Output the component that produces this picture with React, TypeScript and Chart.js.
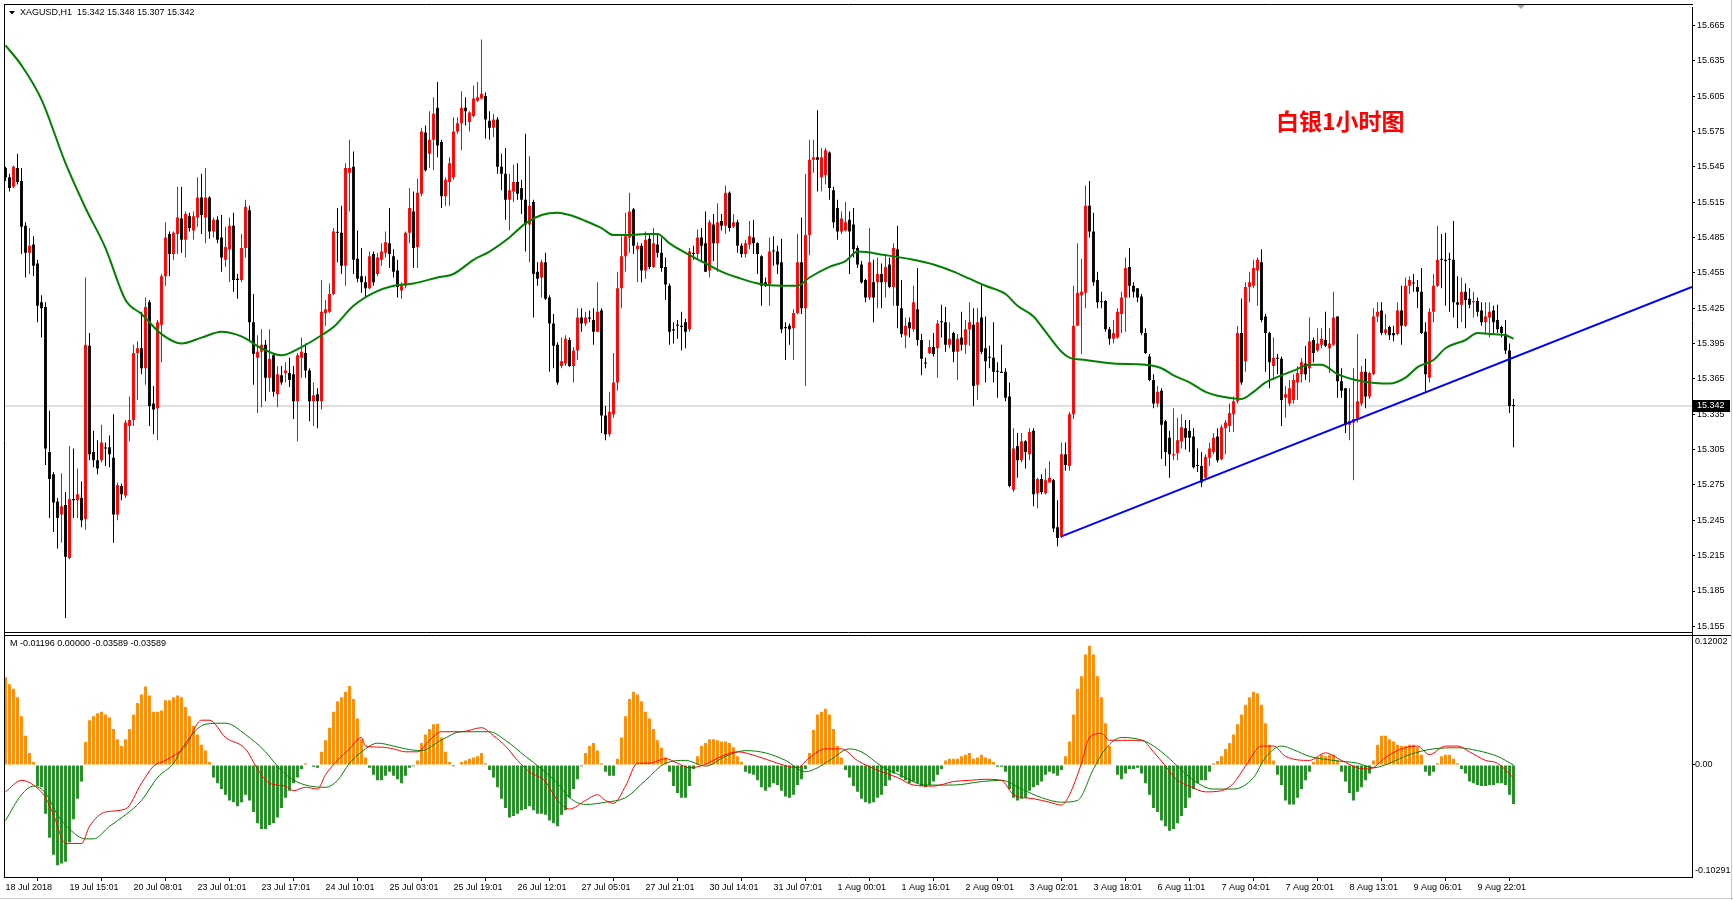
import React, { useEffect, useRef } from 'react';
import { Chart, registerables } from 'chart.js';

Chart.register(...registerables);

// ---------- DATA ----------
const xTickIdx = [0, 16, 32, 48, 64, 80, 96, 112, 128, 144, 160, 176, 192, 208, 224, 240, 256, 272, 288, 304, 320, 336, 352, 368];
const xTickLabels = ['18 Jul 2018', '19 Jul 15:01', '20 Jul 08:01', '23 Jul 01:01', '23 Jul 17:01', '24 Jul 10:01', '25 Jul 03:01', '25 Jul 19:01', '26 Jul 12:01', '27 Jul 05:01', '27 Jul 21:01', '30 Jul 14:01', '31 Jul 07:01', '1 Aug 00:01', '1 Aug 16:01', '2 Aug 09:01', '3 Aug 02:01', '3 Aug 18:01', '6 Aug 11:01', '7 Aug 04:01', '7 Aug 20:01', '8 Aug 13:01', '9 Aug 06:01', '9 Aug 22:01'];
const yTickValues = [15.155, 15.185, 15.215, 15.245, 15.275, 15.305, 15.335, 15.365, 15.395, 15.425, 15.455, 15.485, 15.515, 15.545, 15.575, 15.605, 15.635, 15.665];
const macdTickValues = [0.1135, 0, -0.0975];
const macdTickLabels = ['0.12002', '0.00', '-0.10291'];

const opens = [
15.544,15.536,15.528,15.544,15.533,15.495,15.472,15.479,15.463,15.430,
15.426,15.303,15.284,15.261,15.250,15.258,15.213,15.263,15.262,15.264,
15.246,15.393,15.303,15.296,15.296,15.306,15.307,15.298,15.250,15.274,
15.266,15.325,15.330,15.387,15.391,15.374,15.430,15.344,15.340,15.411,
15.452,15.488,15.471,15.488,15.501,15.483,15.503,15.491,15.502,15.519,
15.502,15.519,15.490,15.500,15.485,15.466,15.475,15.495,15.450,15.449,
15.476,15.508,15.413,15.383,15.388,15.394,15.366,15.385,15.352,15.368,
15.370,15.370,15.369,15.346,15.383,15.387,15.372,15.346,15.352,15.346,
15.421,15.422,15.437,15.489,15.489,15.461,15.540,15.545,15.467,15.452,
15.447,15.442,15.471,15.454,15.466,15.472,15.480,15.469,15.457,15.440,
15.444,15.489,15.507,15.477,15.522,15.574,15.556,15.568,15.595,15.566,
15.520,15.532,15.536,15.575,15.582,15.595,15.583,15.588,15.601,15.603,
15.605,15.584,15.578,15.585,15.545,15.539,15.517,15.524,15.532,15.527,
15.517,15.496,15.515,15.456,15.451,15.464,15.434,15.412,15.394,15.376,
15.378,15.398,15.376,15.389,15.417,15.412,15.417,15.415,15.405,15.423,
15.334,15.318,15.335,15.362,15.442,15.469,15.485,15.509,15.475,15.478,
15.457,15.484,15.460,15.479,15.472,15.460,15.444,15.407,15.410,15.410,
15.413,15.407,15.472,15.471,15.485,15.480,15.457,15.496,15.480,15.499,
15.495,15.523,15.494,15.498,15.478,15.471,15.479,15.485,15.480,15.469,
15.447,15.445,15.473,15.473,15.464,15.409,15.410,15.408,15.421,15.464,
15.425,15.487,15.551,15.553,15.536,15.538,15.557,15.525,15.510,15.490,
15.491,15.500,15.496,15.476,15.462,15.449,15.434,15.447,15.447,15.454,
15.447,15.462,15.443,15.475,15.425,15.402,15.413,15.407,15.424,15.398,
15.378,15.387,15.392,15.391,15.413,15.413,15.394,15.404,15.388,15.400,
15.394,15.407,15.411,15.360,15.417,15.391,15.383,15.383,15.371,15.371,
15.371,15.350,15.271,15.308,15.296,15.312,15.301,15.321,15.268,15.280,
15.268,15.277,15.279,15.239,15.231,15.301,15.291,15.335,15.410,15.436,
15.438,15.512,15.490,15.449,15.430,15.431,15.407,15.399,15.400,15.420,
15.434,15.460,15.444,15.442,15.435,15.404,15.384,15.364,15.344,15.355,
15.329,15.315,15.300,15.302,15.312,15.323,15.321,15.316,15.291,15.291,
15.281,15.298,15.303,15.316,15.297,15.323,15.325,15.335,15.346,15.404,
15.380,15.443,15.444,15.457,15.464,15.418,15.404,15.376,15.382,15.382,
15.349,15.344,15.347,15.362,15.369,15.378,15.374,15.398,15.389,15.394,
15.398,15.391,15.394,15.418,15.363,15.357,15.326,15.328,15.331,15.344,
15.371,15.350,15.369,15.418,15.423,15.404,15.409,15.404,15.403,15.423,
15.410,15.444,15.446,15.443,15.439,15.405,15.366,15.422,15.444,15.466,
15.466,15.466,15.466,15.430,15.428,15.439,15.433,15.430,15.431,15.423,
15.413,15.417,15.423,15.415,15.409,15.403,15.389,15.342];

const highs = [
15.545,15.539,15.546,15.556,15.544,15.498,15.493,15.486,15.466,15.436,
15.430,15.338,15.286,15.264,15.285,15.269,15.308,15.306,15.289,15.278,
15.451,15.404,15.321,15.313,15.326,15.311,15.317,15.335,15.277,15.276,
15.330,15.350,15.394,15.397,15.422,15.434,15.432,15.359,15.415,15.454,
15.498,15.490,15.490,15.528,15.528,15.507,15.506,15.507,15.536,15.539,
15.544,15.520,15.502,15.503,15.504,15.494,15.502,15.506,15.454,15.488,
15.517,15.512,15.437,15.402,15.407,15.398,15.407,15.386,15.376,15.376,
15.379,15.383,15.376,15.387,15.400,15.395,15.374,15.362,15.357,15.449,
15.432,15.446,15.493,15.510,15.512,15.548,15.568,15.558,15.491,15.476,
15.452,15.473,15.473,15.472,15.480,15.490,15.510,15.475,15.466,15.447,
15.490,15.527,15.524,15.535,15.578,15.580,15.592,15.604,15.617,15.568,
15.536,15.553,15.587,15.587,15.609,15.604,15.592,15.614,15.617,15.653,
15.608,15.592,15.590,15.587,15.556,15.561,15.539,15.547,15.548,15.534,
15.573,15.554,15.517,15.464,15.466,15.472,15.436,15.420,15.396,15.400,
15.402,15.400,15.392,15.425,15.425,15.422,15.423,15.425,15.447,15.425,
15.342,15.354,15.387,15.456,15.486,15.506,15.523,15.510,15.481,15.480,
15.490,15.488,15.493,15.488,15.485,15.468,15.446,15.413,15.415,15.422,
15.416,15.476,15.478,15.492,15.493,15.507,15.500,15.505,15.514,15.505,
15.529,15.524,15.505,15.500,15.480,15.483,15.499,15.500,15.481,15.470,
15.451,15.485,15.486,15.478,15.484,15.413,15.412,15.424,15.488,15.502,
15.539,15.568,15.568,15.593,15.561,15.561,15.558,15.528,15.517,15.507,
15.515,15.507,15.510,15.478,15.465,15.450,15.493,15.466,15.468,15.463,
15.471,15.468,15.480,15.495,15.449,15.417,15.417,15.444,15.459,15.403,
15.383,15.398,15.404,15.415,15.428,15.426,15.413,15.405,15.403,15.422,
15.415,15.430,15.425,15.425,15.446,15.418,15.393,15.413,15.379,15.394,
15.374,15.362,15.323,15.319,15.319,15.313,15.323,15.323,15.281,15.284,
15.289,15.295,15.280,15.262,15.311,15.311,15.337,15.444,15.480,15.467,
15.529,15.533,15.506,15.456,15.439,15.432,15.409,15.415,15.425,15.439,
15.468,15.476,15.447,15.442,15.437,15.408,15.386,15.369,15.359,15.357,
15.330,15.321,15.340,15.332,15.335,15.330,15.330,15.323,15.306,15.303,
15.301,15.311,15.319,15.323,15.326,15.330,15.344,15.350,15.410,15.433,
15.447,15.456,15.466,15.468,15.475,15.420,15.405,15.400,15.386,15.384,
15.359,15.364,15.369,15.376,15.383,15.393,15.417,15.400,15.408,15.408,
15.422,15.408,15.439,15.418,15.374,15.357,15.357,15.374,15.403,15.376,
15.382,15.371,15.425,15.430,15.430,15.420,15.410,15.410,15.430,15.444,
15.451,15.452,15.454,15.449,15.459,15.413,15.425,15.454,15.495,15.488,
15.489,15.472,15.499,15.452,15.451,15.446,15.442,15.439,15.434,15.430,
15.430,15.430,15.427,15.428,15.410,15.415,15.395,15.348];

const lows = [
15.533,15.524,15.527,15.530,15.471,15.451,15.454,15.452,15.413,15.400,
15.292,15.247,15.235,15.221,15.226,15.162,15.212,15.247,15.247,15.239,
15.237,15.296,15.290,15.284,15.294,15.291,15.290,15.226,15.245,15.262,
15.264,15.312,15.325,15.347,15.369,15.360,15.325,15.318,15.313,15.379,
15.444,15.452,15.466,15.471,15.472,15.468,15.490,15.483,15.494,15.488,
15.480,15.484,15.485,15.480,15.456,15.460,15.447,15.439,15.433,15.447,
15.468,15.398,15.360,15.336,15.341,15.346,15.354,15.350,15.341,15.360,
15.362,15.358,15.331,15.312,15.366,15.366,15.329,15.325,15.323,15.339,
15.410,15.421,15.436,15.464,15.454,15.444,15.507,15.454,15.447,15.438,
15.434,15.441,15.444,15.452,15.461,15.468,15.459,15.451,15.434,15.433,
15.442,15.480,15.459,15.459,15.520,15.541,15.544,15.542,15.553,15.510,
15.512,15.512,15.534,15.573,15.559,15.580,15.575,15.587,15.600,15.602,
15.569,15.568,15.570,15.539,15.525,15.500,15.491,15.515,15.517,15.505,
15.473,15.464,15.417,15.444,15.434,15.432,15.371,15.374,15.360,15.374,
15.376,15.375,15.362,15.381,15.405,15.410,15.413,15.394,15.405,15.319,
15.313,15.316,15.332,15.355,15.425,15.456,15.472,15.471,15.447,15.447,
15.450,15.458,15.459,15.468,15.456,15.432,15.394,15.395,15.399,15.389,
15.391,15.405,15.466,15.466,15.464,15.456,15.451,15.465,15.456,15.491,
15.488,15.490,15.493,15.472,15.468,15.468,15.475,15.471,15.454,15.427,
15.443,15.427,15.461,15.454,15.404,15.381,15.394,15.381,15.420,15.420,
15.359,15.470,15.540,15.524,15.524,15.530,15.517,15.493,15.483,15.488,
15.490,15.454,15.468,15.459,15.446,15.430,15.432,15.413,15.425,15.425,
15.434,15.442,15.427,15.408,15.400,15.391,15.400,15.405,15.393,15.368,
15.374,15.386,15.384,15.366,15.400,15.388,15.391,15.379,15.364,15.389,
15.386,15.393,15.342,15.347,15.386,15.362,15.374,15.362,15.349,15.370,
15.346,15.273,15.269,15.281,15.294,15.289,15.296,15.257,15.255,15.267,
15.267,15.277,15.235,15.223,15.230,15.287,15.287,15.331,15.410,15.386,
15.425,15.485,15.444,15.425,15.425,15.405,15.394,15.395,15.399,15.404,
15.405,15.434,15.434,15.430,15.402,15.386,15.363,15.340,15.341,15.297,
15.291,15.281,15.296,15.296,15.306,15.305,15.303,15.289,15.286,15.273,
15.279,15.291,15.301,15.294,15.296,15.301,15.320,15.320,15.344,15.360,
15.371,15.430,15.442,15.427,15.413,15.371,15.357,15.364,15.369,15.325,
15.332,15.342,15.344,15.347,15.362,15.364,15.362,15.379,15.388,15.391,
15.392,15.370,15.393,15.349,15.349,15.319,15.313,15.279,15.328,15.342,
15.340,15.348,15.368,15.413,15.402,15.402,15.398,15.397,15.402,15.394,
15.409,15.437,15.439,15.425,15.403,15.354,15.362,15.413,15.443,15.442,
15.427,15.422,15.417,15.408,15.413,15.408,15.425,15.417,15.418,15.410,
15.403,15.400,15.403,15.404,15.400,15.386,15.336,15.307];

const closes = [
15.536,15.527,15.545,15.532,15.494,15.472,15.478,15.461,15.427,15.425,
15.306,15.280,15.260,15.247,15.257,15.214,15.263,15.262,15.267,15.245,
15.394,15.301,15.296,15.289,15.311,15.306,15.301,15.250,15.275,15.267,
15.328,15.330,15.387,15.391,15.374,15.426,15.342,15.339,15.413,15.452,
15.485,15.471,15.489,15.502,15.483,15.505,15.493,15.503,15.519,15.504,
15.519,15.490,15.500,15.483,15.468,15.477,15.495,15.449,15.449,15.476,
15.511,15.413,15.386,15.388,15.394,15.366,15.382,15.354,15.369,15.362,
15.372,15.364,15.346,15.385,15.388,15.372,15.346,15.351,15.346,15.422,
15.424,15.437,15.490,15.489,15.461,15.544,15.544,15.466,15.450,15.447,
15.442,15.469,15.447,15.468,15.473,15.481,15.471,15.456,15.443,15.444,
15.489,15.510,15.476,15.523,15.575,15.542,15.568,15.590,15.563,15.520,
15.534,15.548,15.575,15.582,15.595,15.592,15.591,15.603,15.604,15.607,
15.585,15.578,15.585,15.545,15.539,15.517,15.525,15.532,15.522,15.517,
15.496,15.512,15.454,15.450,15.464,15.433,15.412,15.393,15.362,15.380,
15.399,15.376,15.389,15.417,15.412,15.417,15.416,15.405,15.422,15.334,
15.318,15.337,15.362,15.442,15.469,15.486,15.507,15.478,15.478,15.457,
15.483,15.460,15.480,15.472,15.459,15.445,15.405,15.406,15.410,15.409,
15.405,15.473,15.471,15.485,15.478,15.456,15.498,15.480,15.498,15.495,
15.523,15.493,15.498,15.478,15.471,15.480,15.486,15.480,15.471,15.444,
15.444,15.473,15.473,15.462,15.407,15.408,15.407,15.421,15.464,15.425,
15.487,15.551,15.553,15.551,15.553,15.559,15.527,15.498,15.490,15.501,
15.498,15.490,15.475,15.462,15.447,15.434,15.464,15.434,15.454,15.447,
15.460,15.443,15.476,15.427,15.403,15.410,15.408,15.430,15.398,15.382,
15.378,15.392,15.386,15.412,15.413,15.394,15.399,15.388,15.399,15.394,
15.407,15.413,15.359,15.413,15.388,15.380,15.383,15.371,15.371,15.370,
15.349,15.274,15.306,15.296,15.312,15.303,15.320,15.267,15.280,15.269,
15.279,15.281,15.238,15.230,15.301,15.292,15.335,15.410,15.438,15.439,
15.512,15.490,15.447,15.430,15.430,15.407,15.399,15.404,15.422,15.434,
15.459,15.444,15.439,15.434,15.404,15.387,15.364,15.344,15.354,15.326,
15.303,15.301,15.301,15.313,15.324,15.315,15.315,15.290,15.291,15.277,
15.299,15.306,15.315,15.296,15.324,15.328,15.336,15.346,15.404,15.362,
15.443,15.447,15.459,15.466,15.415,15.404,15.379,15.383,15.382,15.347,
15.352,15.357,15.364,15.370,15.379,15.369,15.397,15.387,15.395,15.399,
15.393,15.395,15.417,15.363,15.355,15.326,15.329,15.331,15.346,15.371,
15.350,15.370,15.418,15.422,15.404,15.407,15.402,15.402,15.423,15.410,
15.444,15.449,15.446,15.439,15.404,15.369,15.422,15.444,15.466,15.466,
15.465,15.466,15.430,15.428,15.439,15.432,15.428,15.431,15.422,15.413,
15.418,15.422,15.413,15.407,15.404,15.389,15.342,15.342];

const maIdx = [0, 4, 9, 15, 20, 25, 30, 34, 39, 44, 49, 54, 59, 64, 69, 74, 79, 82, 87, 92, 97, 102, 108, 112, 117, 121, 126, 130, 134, 138, 141, 145, 149, 152, 156, 160, 163, 166, 170, 175, 179, 183, 188, 194, 198, 201, 206, 210, 213, 220, 227, 232, 237, 241, 245, 250, 253, 257, 260, 264, 266, 270, 277, 285, 289, 292, 296, 300, 304, 309, 312, 315, 319, 322, 326, 329, 333, 339, 346, 350, 353, 357, 360, 365, 368, 371, 375, 377];
const maVal = [15.648, 15.631, 15.602, 15.548, 15.510, 15.476, 15.432, 15.420, 15.403, 15.395, 15.400, 15.405, 15.401, 15.391, 15.385, 15.392, 15.402, 15.409, 15.427, 15.438, 15.444, 15.446, 15.451, 15.454, 15.466, 15.473, 15.485, 15.497, 15.504, 15.506, 15.504, 15.499, 15.493, 15.487, 15.487, 15.488, 15.488, 15.480, 15.472, 15.463, 15.456, 15.451, 15.446, 15.444, 15.444, 15.451, 15.460, 15.465, 15.473, 15.470, 15.466, 15.462, 15.456, 15.450, 15.444, 15.437, 15.427, 15.418, 15.405, 15.388, 15.383, 15.381, 15.378, 15.377, 15.374, 15.368, 15.362, 15.354, 15.350, 15.348, 15.354, 15.362, 15.368, 15.372, 15.377, 15.377, 15.369, 15.363, 15.361, 15.366, 15.375, 15.381, 15.391, 15.398, 15.404, 15.403, 15.402, 15.399];

const histVals = [
0.0807,0.0744,0.0702,0.0623,0.0449,0.0269,0.0111,0.0026,-0.0195,-0.0206,
-0.0449,-0.0670,-0.0828,-0.0923,-0.0908,-0.0892,-0.0712,-0.0501,-0.0311,-0.0153,
0.0211,0.0412,0.0449,0.0475,0.0491,0.0464,0.0438,0.0332,0.0237,0.0174,
0.0237,0.0332,0.0464,0.0570,0.0649,0.0723,0.0639,0.0491,0.0491,0.0501,
0.0596,0.0596,0.0623,0.0639,0.0623,0.0533,0.0449,0.0359,0.0280,0.0185,
0.0132,0.0026,-0.0116,-0.0169,-0.0222,-0.0274,-0.0327,-0.0343,-0.0380,-0.0343,
-0.0274,-0.0327,-0.0433,-0.0538,-0.0591,-0.0591,-0.0554,-0.0538,-0.0485,-0.0396,
-0.0301,-0.0237,-0.0169,-0.0116,-0.0037,0.0016,0.0005,-0.0016,-0.0026,0.0121,
0.0227,0.0343,0.0491,0.0586,0.0623,0.0675,0.0728,0.0607,0.0427,0.0237,
0.0069,-0.0026,-0.0090,-0.0142,-0.0142,-0.0100,-0.0063,-0.0100,-0.0132,-0.0169,
-0.0100,-0.0026,-0.0011,0.0042,0.0201,0.0280,0.0332,0.0375,0.0380,0.0253,
0.0121,0.0026,-0.0011,0.0005,0.0026,0.0042,0.0058,0.0069,0.0079,0.0111,
0.0016,-0.0047,-0.0116,-0.0206,-0.0311,-0.0396,-0.0485,-0.0470,-0.0449,-0.0417,
-0.0406,-0.0380,-0.0417,-0.0449,-0.0449,-0.0459,-0.0512,-0.0538,-0.0565,-0.0459,
-0.0417,-0.0301,-0.0222,-0.0132,-0.0011,0.0111,0.0174,0.0201,0.0132,0.0016,
-0.0063,-0.0100,-0.0100,0.0058,0.0253,0.0449,0.0607,0.0675,0.0649,0.0586,
0.0491,0.0427,0.0332,0.0227,0.0158,0.0069,-0.0063,-0.0195,-0.0259,-0.0301,
-0.0301,-0.0195,-0.0037,0.0079,0.0174,0.0201,0.0237,0.0237,0.0227,0.0216,
0.0216,0.0201,0.0164,0.0079,0.0026,-0.0063,-0.0079,-0.0090,-0.0142,-0.0206,
-0.0237,-0.0206,-0.0169,-0.0185,-0.0237,-0.0290,-0.0301,-0.0274,-0.0185,-0.0132,
-0.0037,0.0111,0.0322,0.0464,0.0491,0.0517,0.0464,0.0332,0.0174,0.0069,
-0.0047,-0.0116,-0.0195,-0.0248,-0.0311,-0.0343,-0.0354,-0.0343,-0.0301,-0.0274,
-0.0195,-0.0142,-0.0079,-0.0063,-0.0116,-0.0142,-0.0169,-0.0153,-0.0169,-0.0195,
-0.0206,-0.0185,-0.0153,-0.0090,-0.0037,0.0042,0.0058,0.0058,0.0058,0.0079,
0.0095,0.0111,0.0058,0.0069,0.0095,0.0069,0.0058,0.0026,-0.0016,-0.0016,
-0.0063,-0.0222,-0.0301,-0.0327,-0.0311,-0.0301,-0.0237,-0.0206,-0.0185,-0.0153,
-0.0090,-0.0063,-0.0079,-0.0100,-0.0047,0.0079,0.0216,0.0464,0.0702,0.0818,
0.1018,0.1098,0.1018,0.0818,0.0623,0.0385,0.0174,0.0005,-0.0090,-0.0132,
-0.0079,-0.0037,-0.0037,-0.0026,-0.0079,-0.0169,-0.0274,-0.0396,-0.0433,-0.0512,
-0.0565,-0.0607,-0.0591,-0.0538,-0.0470,-0.0396,-0.0301,-0.0222,-0.0169,-0.0142,
-0.0142,-0.0063,0.0016,0.0037,0.0079,0.0148,0.0201,0.0280,0.0375,0.0464,
0.0554,0.0623,0.0675,0.0660,0.0554,0.0385,0.0185,0.0042,-0.0090,-0.0185,
-0.0327,-0.0364,-0.0364,-0.0301,-0.0222,-0.0142,-0.0063,0.0026,0.0069,0.0095,
0.0079,0.0095,0.0095,0.0042,-0.0063,-0.0153,-0.0259,-0.0327,-0.0248,-0.0206,
-0.0142,-0.0079,0.0042,0.0185,0.0269,0.0269,0.0237,0.0216,0.0185,0.0174,
0.0174,0.0185,0.0185,0.0164,0.0095,-0.0063,-0.0100,-0.0063,0.0016,0.0079,
0.0095,0.0095,0.0058,0.0016,-0.0037,-0.0079,-0.0153,-0.0169,-0.0185,-0.0195,
-0.0195,-0.0185,-0.0185,-0.0169,-0.0169,-0.0185,-0.0274,-0.0359];

const difIdx = [0, 4, 7, 10, 12, 15, 19, 21, 25, 30, 34, 37, 40, 45, 49, 51, 55, 60, 63, 66, 70, 72, 75, 78, 80, 83, 86, 89, 90, 94, 97, 100, 103, 106, 109, 114, 119, 122, 125, 128, 131, 135, 138, 141, 145, 148, 150, 152, 155, 158, 161, 165, 168, 171, 175, 179, 183, 188, 193, 198, 201, 205, 209, 213, 219, 223, 227, 232, 237, 241, 245, 249, 252, 257, 261, 264, 266, 269, 271, 274, 276, 279, 284, 287, 290, 293, 296, 300, 304, 307, 310, 314, 317, 320, 326, 330, 334, 338, 341, 345, 349, 353, 356, 360, 363, 366, 370, 373, 377];
const difVal = [-0.0248, -0.0142, -0.0185, -0.0301, -0.0459, -0.0723, -0.0723, -0.0565, -0.0433, -0.0406, -0.0169, -0.0011, 0.0042, 0.0174, 0.0412, 0.0412, 0.0253, 0.0148, -0.0037, -0.0169, -0.0195, -0.0237, -0.0206, -0.0222, -0.0090, 0.0042, 0.0148, 0.0253, 0.0174, 0.0164, 0.0148, 0.0121, 0.0121, 0.0227, 0.0306, 0.0306, 0.0343, 0.0269, 0.0174, 0.0042, -0.0063, -0.0153, -0.0327, -0.0406, -0.0327, -0.0274, -0.0327, -0.0354, -0.0195, 0.0016, 0.0016, 0.0058, 0.0016, -0.0026, 0.0005, 0.0079, 0.0121, 0.0079, 0.0016, -0.0026, 0.0069, 0.0148, 0.0148, 0.0040, -0.0063, -0.0116, -0.0185, -0.0195, -0.0153, -0.0142, -0.0132, -0.0142, -0.0274, -0.0311, -0.0343, -0.0369, -0.0274, 0.0016, 0.0253, 0.0290, 0.0227, 0.0227, 0.0227, 0.0121, -0.0011, -0.0142, -0.0195, -0.0248, -0.0237, -0.0169, -0.0011, 0.0174, 0.0174, 0.0079, 0.0042, 0.0111, 0.0042, -0.0026, -0.0037, 0.0069, 0.0148, 0.0174, 0.0095, 0.0174, 0.0174, 0.0121, 0.0042, 0.0016, -0.0120];

const deaIdx = [0, 4, 7, 10, 13, 16, 20, 22, 26, 30, 34, 38, 42, 45, 50, 55, 60, 65, 68, 71, 75, 80, 83, 86, 90, 93, 97, 100, 104, 109, 114, 121, 125, 130, 134, 138, 141, 145, 150, 155, 160, 165, 170, 175, 180, 185, 190, 195, 200, 203, 206, 211, 214, 219, 224, 230, 237, 244, 249, 254, 259, 264, 268, 272, 275, 279, 285, 289, 293, 297, 302, 307, 312, 315, 319, 322, 326, 332, 338, 342, 346, 351, 357, 363, 368, 373, 377];
const deaVal = [-0.0512, -0.0274, -0.0195, -0.0259, -0.0459, -0.0591, -0.0681, -0.0681, -0.0565, -0.0459, -0.0327, -0.0116, 0.0016, 0.0201, 0.0375, 0.0385, 0.0280, 0.0121, -0.0011, -0.0116, -0.0185, -0.0206, -0.0142, 0.0016, 0.0148, 0.0201, 0.0174, 0.0148, 0.0132, 0.0230, 0.0306, 0.0306, 0.0227, 0.0079, -0.0037, -0.0169, -0.0301, -0.0364, -0.0343, -0.0301, -0.0142, 0.0016, 0.0042, -0.0011, 0.0079, 0.0132, 0.0111, 0.0042, -0.0063, -0.0026, 0.0042, 0.0148, 0.0120, -0.0011, -0.0100, -0.0185, -0.0185, -0.0153, -0.0142, -0.0222, -0.0301, -0.0343, -0.0327, -0.0037, 0.0148, 0.0253, 0.0216, 0.0121, -0.0011, -0.0142, -0.0222, -0.0222, -0.0116, 0.0069, 0.0174, 0.0140, 0.0079, 0.0042, 0.0016, -0.0026, 0.0016, 0.0095, 0.0148, 0.0158, 0.0132, 0.0079, 0.0000];

const trendIdx = [264, 421.6];
const trendVal = [15.2313, 15.443];
const lastPrice = 15.342;
const headerText = 'XAGUSD,H1  15.342 15.348 15.307 15.342';
const macdHeader = 'M -0.01196 0.00000 -0.03589 -0.03589';
const titleText = '白银1小时图';

// ---------- STYLE ----------
const FONT = 'Liberation Sans';
const W = 1733;
const H = 900;

const mt4Plugin = {
  id: 'mt4Frame',
  afterDraw(chart: any) {
    const ctx = chart.ctx as CanvasRenderingContext2D;
    const a = chart.chartArea;
    const ys = chart.scales.y;
    ctx.save();
    ctx.strokeStyle = '#000';
    ctx.lineWidth = 1;
    ctx.beginPath();
    ctx.moveTo(a.left + 0.5, 4);
    ctx.lineTo(a.left + 0.5, a.bottom);
    ctx.moveTo(a.left, 4.5);
    ctx.lineTo(a.right + 1, 4.5);
    const sep = Math.round(ys.bottom);
    ctx.moveTo(a.left, sep - 1.5);
    ctx.lineTo(a.right + 1, sep - 1.5);
    ctx.moveTo(a.left, sep + 1.5);
    ctx.lineTo(W - 2, sep + 1.5);
    ctx.stroke();
    ctx.strokeStyle = '#c8c8c8';
    ctx.beginPath();
    ctx.moveTo(W - 1.5, 0);
    ctx.lineTo(W - 1.5, H);
    ctx.moveTo(0, H - 1.5);
    ctx.lineTo(W, H - 1.5);
    ctx.stroke();

    const py = ys.getPixelForValue(lastPrice);
    ctx.fillStyle = '#000';
    ctx.fillRect(a.right + 1, Math.round(py) - 6, 37, 12);
    ctx.fillStyle = '#fff';
    ctx.font = `9px ${FONT}`;
    ctx.textBaseline = 'middle';
    ctx.textAlign = 'left';
    ctx.fillText(lastPrice.toFixed(3), a.right + 5, Math.round(py));

    ctx.fillStyle = '#000';
    ctx.beginPath();
    ctx.moveTo(9, 11);
    ctx.lineTo(15, 11);
    ctx.lineTo(12, 14.5);
    ctx.closePath();
    ctx.fill();
    ctx.font = `9px ${FONT}`;
    ctx.fillText(headerText, 20, 13);
    ctx.fillText(macdHeader, 10, sep + 10);

    ctx.fillStyle = '#a8a8a8';
    ctx.beginPath();
    ctx.moveTo(1517, 5);
    ctx.lineTo(1525, 5);
    ctx.lineTo(1521, 9);
    ctx.closePath();
    ctx.fill();

    ctx.fillStyle = '#ff0000';
    ctx.font = 'bold 23px "Noto Sans CJK SC"';
    ctx.fillText(titleText, 1276, 121);
    ctx.restore();
  },
};

export default function App() {
  const ref = useRef<HTMLCanvasElement>(null);

  useEffect(() => {
    const canvas = ref.current;
    if (!canvas) return;
    const idx = opens.map((_, i) => i);
    const candleColor = opens.map((o, i) => (closes[i] > o ? '#ff0000' : '#000000'));
    const histColor = histVals.map((v) => (v >= 0 ? '#ff8c00' : '#228b22'));
    const tickFont = { family: FONT, size: 9 };

    const chart = new Chart(canvas, {
      type: 'bar',
      data: {
        datasets: [
          {
            type: 'line',
            label: 'trend',
            data: trendIdx.map((x, i) => ({ x, y: trendVal[i] })),
            yAxisID: 'y',
            borderColor: '#0000ff',
            borderWidth: 2,
            pointRadius: 0,
            order: 0,
          },
          {
            type: 'line',
            label: 'ma',
            data: maIdx.map((x, i) => ({ x, y: maVal[i] })),
            yAxisID: 'y',
            borderColor: '#008000',
            borderWidth: 2,
            pointRadius: 0,
            cubicInterpolationMode: 'monotone',
            order: 1,
          },
          {
            type: 'line',
            label: 'dif',
            data: difIdx.map((x, i) => ({ x, y: difVal[i] })),
            yAxisID: 'y2',
            borderColor: '#ff0000',
            borderWidth: 1,
            pointRadius: 0,
            cubicInterpolationMode: 'monotone',
            order: 2,
          },
          {
            type: 'line',
            label: 'dea',
            data: deaIdx.map((x, i) => ({ x, y: deaVal[i] })),
            yAxisID: 'y2',
            borderColor: '#008000',
            borderWidth: 1,
            pointRadius: 0,
            cubicInterpolationMode: 'monotone',
            order: 2,
          },
          {
            type: 'bar',
            label: 'body',
            data: idx.map((i) => ({ x: i, y: [opens[i], closes[i]] })),
            yAxisID: 'y',
            backgroundColor: candleColor,
            borderWidth: 0,
            grouped: false,
            maxBarThickness: 3,
            minBarLength: 1,
            inflateAmount: 0,
            order: 3,
          } as any,
          {
            type: 'bar',
            label: 'wick',
            data: idx.map((i) => ({ x: i, y: [lows[i], highs[i]] })),
            yAxisID: 'y',
            backgroundColor: candleColor,
            borderWidth: 0,
            grouped: false,
            maxBarThickness: 1,
            minBarLength: 1,
            inflateAmount: 0,
            order: 4,
          } as any,
          {
            type: 'bar',
            label: 'hist',
            data: idx.map((i) => ({ x: i, y: histVals[i] })),
            yAxisID: 'y2',
            backgroundColor: histColor,
            borderWidth: 0,
            grouped: false,
            maxBarThickness: 3,
            inflateAmount: 0,
            order: 5,
          } as any,
          {
            type: 'line',
            label: 'last',
            data: [
              { x: -0.375, y: lastPrice },
              { x: 421.625, y: lastPrice },
            ],
            yAxisID: 'y',
            borderColor: '#c0c0c0',
            borderWidth: 1,
            pointRadius: 0,
            order: 6,
          },
        ],
      },
      options: {
        responsive: false,
        maintainAspectRatio: false,
        animation: false,
        devicePixelRatio: 1,
        events: [],
        layout: { padding: { left: 4, top: 5, right: 0, bottom: 0 } },
        plugins: { legend: { display: false }, tooltip: { enabled: false } },
        scales: {
          x: {
            type: 'linear',
            min: -0.375,
            max: 421.625,
            offset: false,
            afterBuildTicks: (s: any) => {
              s.ticks = xTickIdx.map((v) => ({ value: v }));
            },
            afterFit: (s: any) => {
              s.height = 23;
            },
            grid: { drawOnChartArea: false, drawTicks: true, tickLength: 4, color: '#000' },
            border: { display: true, color: '#000' },
            ticks: {
              autoSkip: false,
              maxRotation: 0,
              minRotation: 0,
              align: 'start',
              padding: 1,
              font: tickFont,
              color: '#000',
              callback: (_v: any, i: number) => xTickLabels[i],
            },
          },
          y: {
            type: 'linear',
            position: 'right',
            stack: 'pane',
            stackWeight: 628,
            min: 15.1488,
            max: 15.6802,
            afterBuildTicks: (s: any) => {
              s.ticks = yTickValues.map((v) => ({ value: v }));
            },
            afterFit: (s: any) => {
              s.width = 41;
            },
            grid: { drawOnChartArea: false, drawTicks: true, tickLength: 3, color: '#000' },
            border: { display: true, color: '#000' },
            ticks: {
              autoSkip: false,
              padding: 2,
              font: tickFont,
              color: '#000',
              callback: (v: any) => Number(v).toFixed(3),
            },
          },
          y2: {
            type: 'linear',
            position: 'right',
            stack: 'pane',
            stackWeight: 244,
            min: -0.1032,
            max: 0.1209,
            afterBuildTicks: (s: any) => {
              s.ticks = macdTickValues.map((v) => ({ value: v }));
            },
            afterFit: (s: any) => {
              s.width = 41;
            },
            grid: {
              drawOnChartArea: false,
              drawTicks: true,
              tickLength: 3,
              color: (c: any) => (c.tick && c.tick.value === 0 ? '#000' : 'rgba(0,0,0,0)'),
            },
            border: { display: true, color: '#000' },
            ticks: {
              autoSkip: false,
              padding: 0,
              font: tickFont,
              color: '#000',
              callback: (_v: any, i: number) => macdTickLabels[i],
            },
          },
        },
      } as any,
      plugins: [mt4Plugin],
    } as any);

    return () => chart.destroy();
  }, []);

  return (
    <div style={{ position: 'absolute', left: 0, top: 0, width: W, height: H, background: '#fff' }}>
      <canvas ref={ref} width={W} height={H} style={{ display: 'block', width: W, height: H }} />
    </div>
  );
}
